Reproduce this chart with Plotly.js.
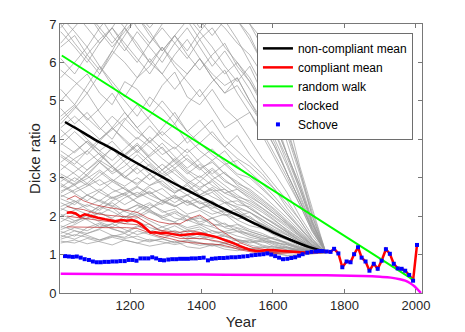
<!DOCTYPE html>
<html>
<head>
<meta charset="utf-8">
<script src="https://cdn.plot.ly/plotly-3.0.1.min.js"></script>
<style>
  html, body { margin: 0; padding: 0; background: #fff; }
  #plot { width: 465px; height: 332px; }
</style>
</head>
<body>
<div id="plot"></div>
<script>
'use strict'

// ---- data ----
var grayYears = [1006,1045,1080,1115,1150,1185,1220,1255,1290,1325,1360,1395,1430,1465,1500,1535,1570,1605,1640,1675,1710,1745];

var grayLow = [
  [1.45,1.62,1.50,1.38,1.47,1.55,1.40,1.33,1.42,1.30,1.36,1.28,1.22,1.30,1.19,1.15,1.20,1.10,1.08,1.12,1.05,1.05],
  [1.60,1.48,1.70,1.82,1.66,1.58,1.75,1.60,1.52,1.63,1.48,1.40,1.50,1.35,1.28,1.36,1.22,1.15,1.18,1.08,1.06,1.05],
  [1.85,2.05,1.90,1.72,1.80,2.00,1.88,1.70,1.62,1.75,1.58,1.66,1.45,1.52,1.38,1.30,1.35,1.20,1.12,1.15,1.07,1.05],
  [2.05,1.88,1.95,2.20,2.35,2.12,2.00,2.18,1.92,1.85,2.02,1.80,1.72,1.60,1.68,1.50,1.42,1.30,1.25,1.14,1.10,1.05],
  [2.25,2.40,2.18,2.05,2.22,1.98,2.10,2.30,2.15,1.95,1.88,2.00,1.75,1.82,1.60,1.52,1.40,1.45,1.28,1.18,1.09,1.05],
  [2.45,2.30,2.55,2.70,2.48,2.60,2.35,2.20,2.42,2.28,2.05,2.15,1.95,2.05,1.80,1.65,1.55,1.40,1.32,1.20,1.12,1.06],
  [1.35,1.30,1.42,1.33,1.25,1.38,1.30,1.22,1.28,1.35,1.20,1.16,1.25,1.14,1.10,1.16,1.08,1.05,1.09,1.04,1.03,1.04],
  [2.65,2.80,2.55,2.40,2.62,2.75,2.50,2.65,2.38,2.25,2.40,2.20,2.30,2.05,1.92,2.00,1.75,1.60,1.42,1.30,1.15,1.06],
  [1.95,1.82,2.05,2.25,2.12,1.95,2.20,2.35,2.10,2.18,1.90,1.78,1.95,1.70,1.62,1.55,1.45,1.32,1.26,1.15,1.08,1.05],
  [2.35,2.18,2.05,2.28,2.50,2.30,2.48,2.62,2.40,2.25,2.42,2.20,2.05,2.15,1.90,1.75,1.68,1.50,1.38,1.22,1.12,1.06],
  [1.70,1.88,2.02,1.85,1.72,1.90,2.05,1.88,1.72,1.82,1.65,1.72,1.55,1.60,1.48,1.40,1.32,1.34,1.20,1.12,1.08,1.05],
  [2.85,2.62,2.78,2.95,2.70,2.55,2.75,2.58,2.72,2.45,2.55,2.32,2.40,2.15,2.05,1.88,1.78,1.58,1.45,1.28,1.14,1.06],
  [1.55,1.70,1.62,1.78,1.68,1.55,1.72,1.80,1.60,1.52,1.64,1.50,1.42,1.48,1.35,1.38,1.25,1.18,1.20,1.10,1.06,1.05],
  [2.15,2.35,2.55,2.38,2.25,2.48,2.62,2.45,2.30,2.52,2.35,2.20,2.38,2.15,2.00,2.10,1.85,1.65,1.50,1.32,1.16,1.06],
  [3.05,2.82,2.98,3.20,2.95,2.78,3.00,2.80,2.92,2.65,2.72,2.50,2.62,2.35,2.25,2.10,1.90,1.72,1.55,1.35,1.18,1.06],
  [1.50,1.40,1.55,1.65,1.50,1.45,1.62,1.52,1.42,1.55,1.40,1.48,1.35,1.30,1.38,1.25,1.18,1.22,1.12,1.07,1.05,1.05],
  [1.75,1.62,1.55,1.68,1.80,1.65,1.52,1.60,1.72,1.58,1.45,1.55,1.62,1.48,1.40,1.32,1.38,1.25,1.16,1.10,1.07,1.05],
  [2.55,2.40,2.25,2.42,2.28,2.12,2.30,2.15,2.00,2.12,1.98,1.85,1.95,1.78,1.70,1.60,1.48,1.38,1.30,1.18,1.10,1.05],
  [1.40,1.52,1.45,1.38,1.50,1.42,1.48,1.36,1.40,1.32,1.38,1.30,1.24,1.28,1.20,1.16,1.12,1.04,0.97,0.98,1.02,1.05],
  [2.00,2.15,2.30,2.15,2.40,2.55,2.35,2.20,2.35,2.50,2.28,2.40,2.15,2.02,2.12,1.88,1.70,1.55,1.40,1.25,1.12,1.06],
  [1.65,1.78,1.95,2.10,1.92,1.80,1.95,2.12,1.98,1.85,1.70,1.78,1.62,1.55,1.60,1.45,1.38,1.28,1.18,1.12,1.07,1.05],
  [2.50,2.68,2.85,2.62,2.45,2.60,2.78,2.55,2.40,2.55,2.35,2.48,2.25,2.10,2.18,1.95,1.78,1.60,1.42,1.26,1.13,1.06],
  [1.30,1.38,1.28,1.35,1.45,1.38,1.30,1.40,1.33,1.26,1.32,1.24,1.28,1.20,1.15,1.12,1.08,1.02,0.98,1.00,1.03,1.04],
  [2.20,2.05,1.92,2.08,1.95,2.15,2.28,2.10,1.95,2.08,1.88,1.95,1.80,1.72,1.78,1.60,1.50,1.38,1.28,1.16,1.09,1.05]
];

var grayMid = [
  [3.20,3.50,3.70,3.40,3.10,3.30,3.60,3.30,3.00,3.20,2.90,2.70,2.95,2.70,2.50,2.40,2.20,1.95,1.70,1.45,1.22,1.07],
  [3.55,3.30,3.05,3.40,3.80,3.55,3.85,3.50,3.20,3.45,3.15,2.90,3.20,2.90,2.75,2.55,2.30,2.05,1.80,1.50,1.25,1.07],
  [3.85,4.20,3.90,3.60,3.30,3.60,3.90,3.55,3.80,3.40,3.10,3.35,3.05,2.80,2.55,2.35,2.15,1.90,1.62,1.42,1.20,1.06],
  [2.90,3.15,3.40,3.65,3.30,3.00,3.25,2.95,3.20,2.90,2.65,2.90,2.65,2.70,2.45,2.20,2.00,1.78,1.58,1.36,1.18,1.06],
  [4.25,3.90,3.60,3.95,4.30,4.00,3.70,4.05,3.75,3.45,3.75,3.40,3.10,3.35,3.05,2.80,2.55,2.25,1.95,1.62,1.30,1.08],
  [3.35,3.10,2.85,3.15,2.90,3.15,3.40,3.10,2.80,2.60,2.85,2.55,2.70,2.40,2.20,2.10,1.92,1.70,1.50,1.32,1.17,1.06],
  [4.50,4.85,4.55,4.25,4.60,4.30,4.00,4.35,4.00,3.75,4.05,3.70,3.45,3.70,3.30,3.05,2.75,2.40,2.05,1.68,1.32,1.08],
  [2.75,3.00,2.80,3.05,3.30,3.05,2.80,3.10,2.85,2.60,2.80,2.55,2.75,2.50,2.30,2.25,2.00,1.82,1.60,1.38,1.18,1.06],
  [3.60,3.35,3.70,4.00,4.30,3.95,3.65,3.95,3.60,3.80,3.45,3.20,3.45,3.10,2.90,2.65,2.40,2.15,1.82,1.55,1.25,1.07],
  [4.05,4.35,4.00,3.70,3.95,3.60,3.85,3.50,3.20,3.50,3.20,3.00,3.25,2.95,2.70,2.50,2.30,2.05,1.78,1.52,1.24,1.07],
  [3.00,2.80,3.10,3.40,3.15,3.45,3.70,3.40,3.10,3.35,3.60,3.25,2.95,3.15,2.80,2.60,2.35,2.12,1.85,1.55,1.25,1.07],
  [3.40,3.70,3.95,3.60,3.30,3.00,3.30,3.60,3.90,3.55,3.25,3.50,3.75,3.40,3.10,3.00,2.70,2.40,2.05,1.70,1.35,1.08],
  [2.80,2.60,2.40,2.65,2.90,2.70,2.50,2.75,2.55,2.35,2.55,2.35,2.20,2.35,2.10,1.95,1.80,1.62,1.45,1.28,1.14,1.06],
  [3.70,3.45,3.20,3.50,3.75,3.40,3.10,3.35,3.05,3.25,2.95,2.75,2.90,2.60,2.45,2.30,2.10,1.88,1.65,1.42,1.20,1.06],
  [3.10,2.90,3.20,3.45,3.25,3.00,2.85,3.10,3.35,3.10,2.85,3.05,2.80,2.60,2.70,2.45,2.22,2.00,1.75,1.48,1.22,1.07],
  [3.90,3.65,3.95,3.70,3.45,3.75,4.05,3.80,3.50,3.25,3.50,3.25,3.40,3.10,2.85,2.70,2.45,2.18,1.88,1.58,1.28,1.07],
  [2.60,2.85,3.05,2.80,2.95,2.70,2.55,2.80,3.00,2.75,2.55,2.70,2.50,2.35,2.40,2.20,2.00,1.80,1.58,1.36,1.17,1.06],
  [4.30,4.60,4.30,4.00,4.25,4.55,4.20,3.95,4.20,3.90,3.65,3.90,3.60,3.35,3.45,3.15,2.85,2.50,2.10,1.72,1.34,1.08]
];

var grayHigh = [
  [5.00,5.40,5.70,5.20,4.90,5.50,5.30,4.85,5.40,5.75,5.10,4.90,5.30,4.80,4.50,4.70,4.10,3.50,2.90,2.30,1.60,1.09],
  [5.80,5.50,5.20,5.70,6.30,6.00,5.60,5.90,6.40,5.90,5.50,5.10,5.50,5.80,5.20,4.70,4.20,3.60,3.00,2.30,1.60,1.10],
  [4.60,4.90,5.40,5.90,5.40,5.00,4.60,5.10,4.80,4.40,4.90,5.30,4.80,4.30,4.50,4.00,3.50,3.10,2.60,2.00,1.50,1.09],
  [6.40,6.70,6.20,5.80,6.30,6.90,6.50,6.00,5.70,6.20,6.60,6.10,5.60,5.20,5.60,5.00,4.50,3.90,3.10,2.40,1.65,1.10],
  [5.30,4.90,4.50,4.80,5.20,4.70,4.30,4.60,5.00,4.60,4.20,4.50,4.10,3.80,4.10,3.60,3.20,2.80,2.40,1.90,1.40,1.08],
  [6.80,6.40,6.00,6.50,6.90,6.50,6.10,5.70,6.20,6.70,6.30,6.80,6.40,5.90,5.50,5.90,5.20,4.40,3.60,2.80,1.85,1.12],
  [4.80,4.40,4.70,4.30,4.00,4.50,4.90,4.50,4.10,4.40,3.90,4.20,4.50,4.00,3.70,3.40,3.10,2.70,2.20,1.80,1.38,1.08],
  [5.60,6.00,6.40,5.90,5.50,5.10,5.60,6.10,5.70,5.30,5.70,6.10,5.60,5.20,5.40,4.90,4.40,3.80,3.10,2.40,1.70,1.11],
  [6.10,5.70,6.20,6.60,6.90,6.40,6.00,6.50,6.90,6.50,6.10,6.60,6.90,6.40,6.00,5.60,5.00,4.20,3.40,2.60,1.75,1.11],
  [4.40,4.80,5.20,4.70,4.30,4.70,4.30,3.90,4.30,4.70,4.20,3.90,4.20,3.80,3.50,3.30,3.00,2.70,2.30,1.90,1.42,1.08]
];

var grayTop = [
  [7.50,7.90,7.40,7.00,7.40,7.80,7.30,6.90,7.30,7.70,7.20,6.80,7.20,6.90,6.50,6.20,5.70,5.00,4.10,3.10,2.00,1.13],
  [8.00,7.60,7.20,7.70,8.20,7.80,8.30,7.90,7.40,7.00,7.50,7.10,6.70,7.10,6.60,6.00,5.40,4.60,3.60,2.70,1.80,1.12],
  [7.20,6.80,6.40,6.90,7.30,6.90,7.40,7.80,7.40,7.90,7.50,7.10,7.60,7.20,7.50,7.00,6.40,5.40,4.20,3.20,2.00,1.13],
  [6.90,7.30,7.70,7.20,6.70,6.30,6.80,6.40,6.00,6.50,6.90,6.40,5.90,6.30,5.80,5.30,4.70,4.00,3.30,2.50,1.70,1.10],
  [8.50,8.10,8.50,8.00,7.60,8.00,7.50,7.90,7.40,7.00,7.40,6.90,7.30,7.60,7.10,6.60,6.00,5.20,4.30,3.20,2.10,1.14],
  [7.00,6.50,6.10,5.70,6.20,6.70,7.20,6.80,6.30,6.70,7.10,6.60,6.10,5.70,6.00,5.50,4.90,4.20,3.50,2.70,1.80,1.11],
  [7.80,7.30,6.90,6.50,6.90,7.40,6.90,6.50,7.00,7.40,7.00,7.50,7.10,7.50,7.10,6.70,6.00,5.00,3.90,2.90,1.90,1.12],
  [9.00,8.60,9.00,8.50,8.90,8.40,8.80,8.30,8.70,8.20,8.50,8.00,7.60,7.80,7.30,7.00,6.60,5.80,4.60,3.30,2.20,1.14],
  [6.50,6.90,7.30,6.80,6.40,6.80,7.20,6.70,6.30,6.70,6.20,5.80,6.20,6.50,5.90,5.50,5.00,4.40,3.60,2.80,1.85,1.11],
  [7.40,7.80,7.30,6.90,6.50,6.90,6.40,6.00,6.40,6.00,5.70,6.10,5.70,5.40,5.60,5.00,4.40,3.80,3.10,2.40,1.65,1.10]
];

// thin dark red: single compliant runs
var compRunYears = [1023,1046,1070,1100,1130,1160,1190,1220,1250,1280,1310,1340,1370,1395,1420,1450,1480,1510,1545,1580,1620,1660,1700];
var compRuns = [
  [2.43,2.53,2.40,2.30,2.24,2.20,2.15,2.10,1.95,1.85,1.80,1.80,1.95,2.03,1.88,1.65,1.48,1.30,1.18,1.13,1.11,1.09,1.07],
  [2.25,2.20,2.17,2.08,2.03,2.00,1.98,1.98,1.80,1.64,1.60,1.58,1.62,1.58,1.52,1.44,1.36,1.22,1.12,1.09,1.07,1.06,1.06],
  [1.72,1.72,1.71,1.71,1.70,1.70,1.70,1.68,1.58,1.48,1.42,1.35,1.31,1.30,1.29,1.26,1.20,1.12,1.06,1.03,1.03,1.05,1.05],
  [2.00,1.97,1.95,1.90,1.87,1.84,1.80,1.78,1.62,1.53,1.49,1.42,1.41,1.42,1.39,1.34,1.26,1.15,1.09,1.06,1.05,1.05,1.05]
];

var nonCompYears = [1018,1050,1100,1150,1200,1250,1300,1350,1400,1450,1500,1550,1600,1650,1700,1750];
var nonCompMean  = [4.45,4.28,4.00,3.75,3.48,3.22,2.97,2.72,2.48,2.25,2.03,1.80,1.58,1.38,1.20,1.06];

var compYears = [1023,1035,1048,1060,1073,1085,1095,1110,1130,1145,1158,1177,1190,1205,1219,1232,1243,1257,1270,1285,1299,1313,1327,1340,1360,1377,1393,1410,1424,1440,1452,1466,1480,1494,1508,1522,1536,1550,1564,1578,1592,1606,1620,1634,1648,1662,1676,1690,1705,1720,1735,1750];
var compMean  = [2.09,2.10,2.07,1.99,2.05,2.02,1.98,1.96,1.92,1.90,1.87,1.90,1.88,1.90,1.86,1.78,1.68,1.57,1.58,1.56,1.57,1.54,1.52,1.50,1.52,1.54,1.55,1.52,1.50,1.46,1.42,1.38,1.34,1.28,1.22,1.16,1.12,1.10,1.09,1.11,1.12,1.11,1.10,1.09,1.08,1.06,1.05,1.05,1.06,1.06,1.07,1.08];

var walkYears = [1009, 1993];
var walkVals  = [6.18, 0.34];

var clockYears = [1006,1200,1400,1600,1750,1850,1900,1930,1955,1970,1983,1995,2002,2008,2014];
var clockVals  = [0.50,0.49,0.48,0.47,0.46,0.44,0.42,0.40,0.36,0.32,0.26,0.18,0.12,0.06,0.00];

var schoveYears = [1018,1029,1040,1051,1062,1073,1085,1096,1107,1118,1129,1140,1151,1162,1173,1185,1196,1207,1218,1229,
  1240,1251,1262,1273,1284,1295,1307,1318,1329,1340,1351,1362,1373,1384,1395,1406,1418,1429,1440,1451,
  1462,1473,1484,1495,1506,1517,1529,1540,1551,1562,1573,1584,1595,1606,1617,1628,1640,1651,1662,1673,
  1683,1696,1708,1720,1729,1739,1750,1761,1771,1783,1794,1806,1817,1827,1838,1848,1859,1870,1882,1893,
  1904,1916,1927,1938,1949,1960,1970,1981,1992,2003];
var schoveVals = [0.96,0.95,0.94,0.95,0.92,0.88,0.86,0.82,0.80,0.80,0.81,0.81,0.82,0.82,0.83,0.83,0.86,0.86,0.84,0.90,
  0.90,0.90,0.93,0.90,0.86,0.85,0.87,0.88,0.88,0.89,0.89,0.89,0.90,0.90,0.91,0.92,0.85,0.89,0.90,0.91,
  0.91,0.92,0.93,0.93,0.94,0.95,0.96,0.98,0.99,1.00,1.01,1.03,1.00,0.96,0.92,0.88,0.89,0.91,0.93,0.97,
  1.01,1.05,1.07,1.08,1.09,1.09,1.08,1.07,1.15,1.03,0.67,0.82,0.80,1.01,1.19,0.92,0.82,0.58,0.76,0.63,
  0.84,1.14,1.02,0.76,0.64,0.63,0.58,0.47,0.32,1.25];

var yearTicks = [1200, 1400, 1600, 1800, 2000];
var ratioTicks = [0, 1, 2, 3, 4, 5, 6, 7];

// ---- build traces ----
var data = [];

function add_gray(runs) {
  for (var i = 0; i < runs.length; i++) {
    data.push({
      type: 'scatter', mode: 'lines', x: grayYears, y: runs[i],
      line: { color: 'rgb(155,155,155)', width: 0.7 },
      showlegend: false, hoverinfo: 'skip'
    });
  }
}
add_gray(grayLow);
add_gray(grayMid);
add_gray(grayHigh);
add_gray(grayTop);

for (var r = 0; r < compRuns.length; r++) {
  data.push({
    type: 'scatter', mode: 'lines', x: compRunYears, y: compRuns[r],
    line: { color: 'rgb(190,40,40)', width: 0.7 },
    showlegend: false, hoverinfo: 'skip'
  });
}

// compliant mean follows Schove after 1750
var cx = compYears.slice(), cy = compMean.slice();
for (var k = 0; k < schoveYears.length; k++) {
  if (schoveYears[k] > compYears[compYears.length-1]) {
    cx.push(schoveYears[k]);
    cy.push(schoveVals[k]);
  }
}

data.push({ type: 'scatter', mode: 'lines', name: 'non-compliant mean',
  x: nonCompYears, y: nonCompMean, line: { color: '#000000', width: 2.5, shape: 'spline' } });
data.push({ type: 'scatter', mode: 'lines', name: 'compliant mean',
  x: cx, y: cy, line: { color: '#ff0000', width: 2.5 } });
data.push({ type: 'scatter', mode: 'lines', name: 'random walk',
  x: walkYears, y: walkVals, line: { color: '#00ff00', width: 2 } });
data.push({ type: 'scatter', mode: 'lines', name: 'clocked',
  x: clockYears, y: clockVals, line: { color: '#ff00ff', width: 2.5, shape: 'spline' } });
data.push({ type: 'scatter', mode: 'markers', name: 'Schove',
  x: schoveYears, y: schoveVals, marker: { color: '#0000ff', symbol: 'square', size: 4 } });

var axisCol = 'rgb(120,120,120)';
var textCol = 'rgb(38,38,38)';

var layout = {
  width: 465, height: 332,
  margin: { l: 60, r: 43, t: 24, b: 39 },
  paper_bgcolor: '#fff', plot_bgcolor: '#fff',
  font: { family: 'Liberation Sans, Arial, sans-serif', size: 13, color: textCol },
  xaxis: {
    range: [1004, 2017], tickvals: yearTicks, ticks: 'inside', ticklen: 4,
    showline: true, mirror: 'ticks', linecolor: axisCol, tickcolor: axisCol, linewidth: 1,
    showgrid: false, zeroline: false,
    title: { text: 'Year', font: { size: 15 }, standoff: 4 }
  },
  yaxis: {
    range: [0, 7], tickvals: ratioTicks, ticks: 'inside', ticklen: 4,
    showline: true, mirror: 'ticks', linecolor: axisCol, tickcolor: axisCol, linewidth: 1,
    showgrid: false, zeroline: false,
    title: { text: 'Dicke ratio', font: { size: 15 }, standoff: 4 }
  },
  legend: {
    x: 0.975, y: 0.967, xanchor: 'right', yanchor: 'top',
    bgcolor: '#fff', bordercolor: 'rgb(110,110,110)', borderwidth: 1,
    font: { size: 12, color: '#000' }
  },
  showlegend: true
};

Plotly.newPlot('plot', data, layout, { displayModeBar: false, staticPlot: true });
</script>
</body>
</html>
